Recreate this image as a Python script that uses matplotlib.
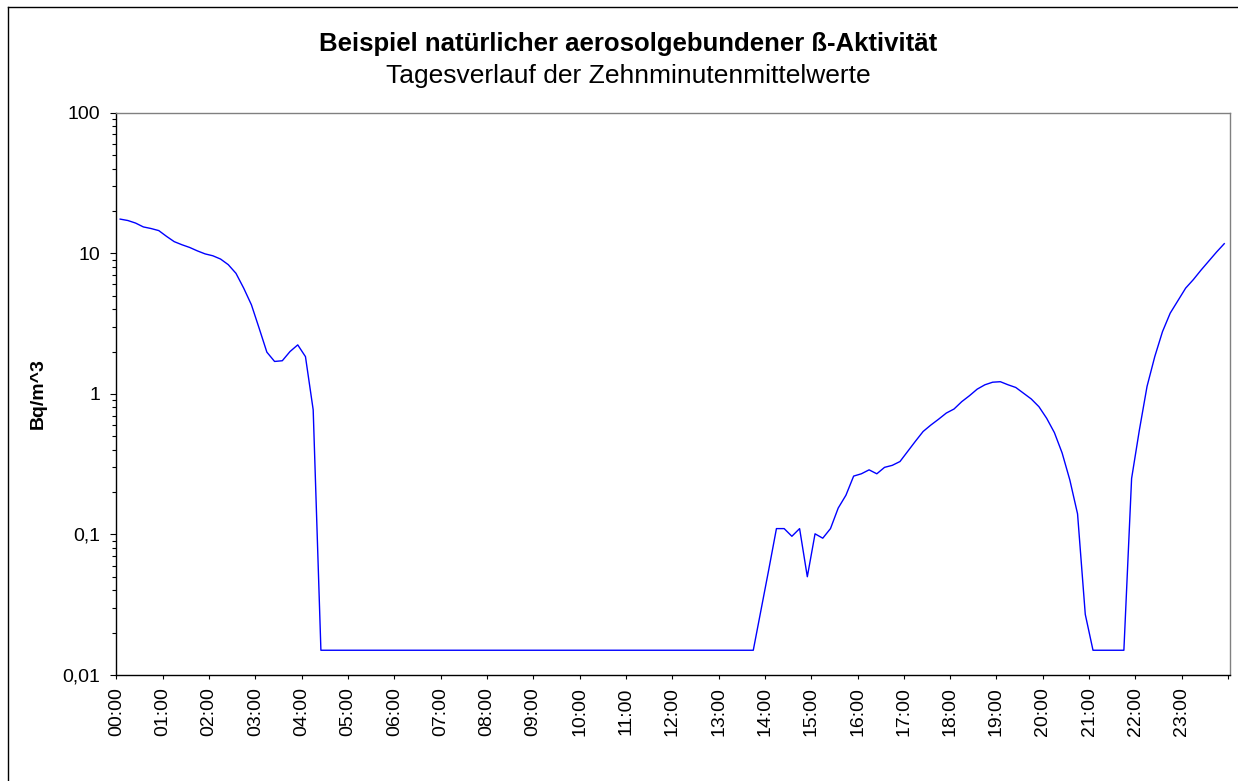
"""Tagesverlauf der natürlichen aerosolgebundenen Beta-Aktivität (10-min-Mittelwerte).

Log-scaled single-line chart, one value per ten-minute interval over one day.
"""

import matplotlib
matplotlib.use("Agg")
import matplotlib.pyplot as plt
import numpy as np
from matplotlib.lines import Line2D
from matplotlib.ticker import FixedLocator, LogLocator, NullFormatter

TITLE = "Beispiel natürlicher aerosolgebundener ß-Aktivität"
SUBTITLE = "Tagesverlauf der Zehnminutenmittelwerte"
Y_LABEL = "Bq/m^3"

# Bq/m^3, ten-minute means starting at 00:00
early_morning = [17.5, 17.1, 16.4, 15.4, 15.0, 14.5, 13.2, 12.1, 11.5, 11.0,
                 10.4, 9.9, 9.6, 9.1, 8.3, 7.2, 5.65, 4.3, 2.93, 1.98,
                 1.70, 1.72, 2.0, 2.23, 1.84, 0.77]
daytime_floor = [0.015] * 57
afternoon = [0.029, 0.056, 0.11, 0.11, 0.097, 0.11, 0.050, 0.101, 0.094, 0.11,
             0.154, 0.19, 0.26, 0.27, 0.288, 0.27, 0.30, 0.31, 0.33, 0.39,
             0.46, 0.54, 0.60, 0.66, 0.73, 0.78, 0.88, 0.97, 1.08, 1.16,
             1.21, 1.22, 1.16, 1.11, 1.01, 0.92, 0.81, 0.67, 0.53, 0.38,
             0.244, 0.14, 0.027]
evening_floor = [0.015] * 5
late_evening = [0.25, 0.55, 1.13, 1.84, 2.77, 3.75, 4.6, 5.65, 6.5, 7.6,
                8.8, 10.2, 11.7]

hour_labels = [f"{h:02d}:00" for h in range(24)]
y_ticks = [0.01, 0.1, 1, 10, 100]
y_tick_labels = ["0,01", "0,1", "1", "10", "100"]


def main() -> None:
    plt.rcParams["font.family"] = ["Liberation Sans", "DejaVu Sans"]

    activity = np.array(early_morning + daytime_floor + afternoon
                        + evening_floor + late_evening)
    # each mean is plotted at the middle of its ten-minute interval
    hours = (5 + 10 * np.arange(len(activity))) / 60.0

    W, H = 1238, 781
    fig = plt.figure(figsize=(W / 100, H / 100), dpi=100)
    ax = fig.add_axes([116.3 / W, 106 / H, 1113.2 / W, 562.3 / H])

    ax.plot(hours, activity, color="#0000ff", lw=1.0)

    ax.set_yscale("log")
    ax.set_ylim(0.01, 100)
    ax.set_xlim(0, 24.03)

    ax.set_yticks(y_ticks)
    ax.set_yticklabels(y_tick_labels)
    ax.yaxis.set_minor_locator(LogLocator(base=10, subs=np.arange(2, 10)))
    ax.yaxis.set_minor_formatter(NullFormatter())

    ax.set_xticks(range(24))
    ax.set_xticklabels(hour_labels, rotation=90)
    ax.xaxis.set_minor_locator(FixedLocator([24]))

    ax.tick_params(axis="y", which="major", direction="out", length=4.3,
                   width=0.8, pad=7.5, labelsize=14)
    ax.tick_params(axis="y", which="minor", direction="out", length=3.0,
                   width=0.8)
    ax.tick_params(axis="x", which="both", direction="out", length=3.0,
                   width=0.8, pad=6, labelsize=14)

    for side in ("left", "bottom"):
        ax.spines[side].set_color("black")
        ax.spines[side].set_linewidth(1.0)
    for side in ("top", "right"):
        ax.spines[side].set_color("#808080")
        ax.spines[side].set_linewidth(1.0)

    fig.text(628 / W, 1 - 51 / H, TITLE, ha="center", va="baseline",
             fontsize=18.5, fontweight="bold")
    fig.text(628 / W, 1 - 82.5 / H, SUBTITLE, ha="center", va="baseline",
             fontsize=19)
    fig.text(38 / W, 1 - 394 / H, Y_LABEL, ha="center", va="center",
             rotation=90, fontsize=14, fontweight="bold")

    # outer chart-area frame (only left and top edges fall inside the image)
    top = 1 - 7.3 / H
    left = 8.3 / W
    fig.add_artist(Line2D([left, left], [0, top], color="black", lw=1.0))
    fig.add_artist(Line2D([left, 1], [top, top], color="black", lw=1.0))

    fig.savefig("out.png", dpi=100)
    plt.close(fig)


if __name__ == "__main__":
    main()
